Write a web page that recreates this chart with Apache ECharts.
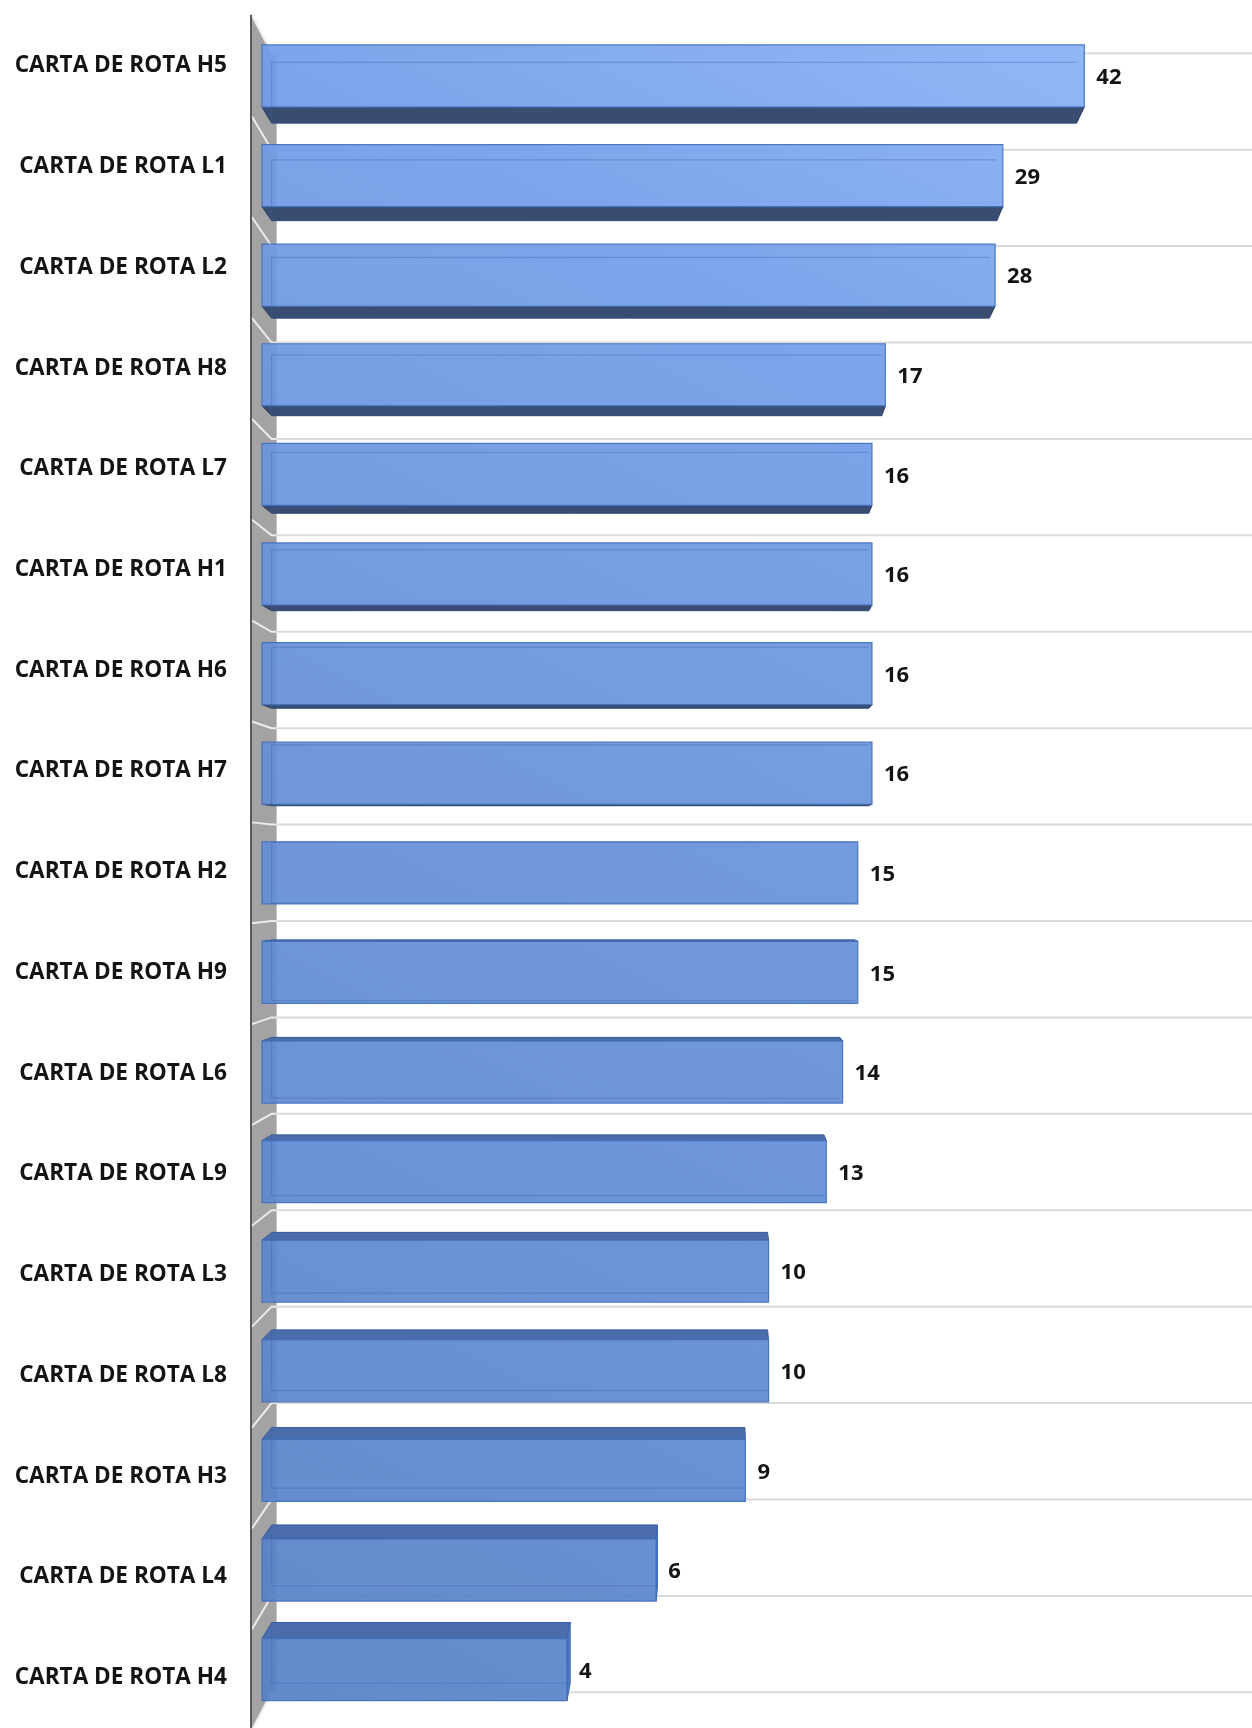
<!DOCTYPE html>
<html>
<head>
<meta charset="utf-8">
<script src="https://cdn.jsdelivr.net/npm/echarts@6/dist/echarts.min.js"></script>
<style>
  html, body { margin: 0; padding: 0; background: #ffffff; }
  #chart { width: 1252px; height: 1728px; }
</style>
</head>
<body>
<div id="chart"></div>
<script>
// Route charts, ordered from the largest count to the smallest
const categories = [
  'CARTA DE ROTA H5', 'CARTA DE ROTA L1', 'CARTA DE ROTA L2', 'CARTA DE ROTA H8',
  'CARTA DE ROTA L7', 'CARTA DE ROTA H1', 'CARTA DE ROTA H6', 'CARTA DE ROTA H7',
  'CARTA DE ROTA H2', 'CARTA DE ROTA H9', 'CARTA DE ROTA L6', 'CARTA DE ROTA L9',
  'CARTA DE ROTA L3', 'CARTA DE ROTA L8', 'CARTA DE ROTA H3', 'CARTA DE ROTA L4',
  'CARTA DE ROTA H4'
];
const counts = [42, 29, 28, 17, 16, 16, 16, 16, 15, 15, 14, 13, 10, 10, 9, 6, 4];

// Plot area (front plane of the bars)
const PLOT = { left: 262, top: 26.2, bottom: 8.6 };
const CHART_H = 1728;
const PLOT_H = CHART_H - PLOT.top - PLOT.bottom;

// Simple one-point perspective: everything recedes toward a vanishing point
const VP_X_FRAC = 0.462;   // across the plot width
const BAR_BACK = 0.979;    // scale of a bar's back face
const WALL_BACK = 0.968;   // back wall (grid lines)
const WALL_FRONT = 1.0126; // front edge of the side wall / category labels
const WALL_OFFSET = 5.2;   // side wall sits just left of the value-1 position
const WALL_THICK = 5;
const BAR_FILL = 0.623;

const LABEL_CENTER = PLOT.top + PLOT_H / 2;
const LABEL_HALF = (PLOT_H / 2) * WALL_FRONT;
const FONT = "'Open Sans', 'Noto Sans', sans-serif";

function vanishingPoint(cs) {
  return [cs.x + cs.width * VP_X_FRAC, cs.y + cs.height / 2];
}
function project(p, s, vp) {
  return [vp[0] + s * (p[0] - vp[0]), vp[1] + s * (p[1] - vp[1])];
}

const frontFill = new echarts.graphic.LinearGradient(1100, 40, 262, 1700, [
  { offset: 0, color: '#8ab2f8' },
  { offset: 0.2, color: '#729de9' },
  { offset: 0.5, color: '#6690d9' },
  { offset: 1, color: '#5580c6' }
], true);

// Side wall, its receding grid lines and the horizontal lines on the back wall
function renderWall(params, api) {
  const cs = params.coordSys;
  const vp = vanishingPoint(cs);
  const n = categories.length;
  const i = api.value(0);
  const band = cs.height / n;
  const yg = cs.y + i * band;
  const xw = cs.x - WALL_OFFSET;
  const f = project([xw, yg], WALL_FRONT, vp);
  const b = project([xw, yg], WALL_BACK, vp);
  const children = [];
  if (i === 0) {
    const yBot = cs.y + cs.height;
    const ft = project([xw, cs.y], WALL_FRONT, vp);
    const bt = project([xw, cs.y], WALL_BACK, vp);
    const fb = project([xw, yBot], WALL_FRONT, vp);
    const bb = project([xw, yBot], WALL_BACK, vp);
    children.push({
      type: 'polygon',
      shape: { points: [ft, bt, [bt[0] + WALL_THICK, bt[1]], [bb[0] + WALL_THICK, bb[1]], bb, fb] },
      style: { fill: '#a3a3a3' }
    });
  }
  children.push({
    type: 'line',
    shape: { x1: b[0] + WALL_THICK, y1: b[1], x2: cs.x + cs.width, y2: b[1] },
    style: { stroke: '#dadada', lineWidth: 2 }
  });
  children.push({
    type: 'polyline',
    shape: { points: [[f[0] + 1, f[1]], b, [b[0] + WALL_THICK, b[1]]] },
    style: { stroke: '#ececec', lineWidth: 2, fill: null }
  });
  return { type: 'group', children: children };
}

// A translucent box for each count, with its value printed past the end
function renderBar(params, api) {
  const cs = params.coordSys;
  const vp = vanishingPoint(cs);
  const v = api.value(0);
  const start = api.coord([1, api.value(1)]);
  const end = api.coord([v, api.value(1)]);
  const h = api.size([0, 1])[1] * BAR_FILL;
  const yc = start[1];
  const x0 = start[0], x1 = end[0], yT = yc - h / 2, yB = yc + h / 2;
  const F = { tl: [x0, yT], tr: [x1, yT], br: [x1, yB], bl: [x0, yB] };
  const B = {
    tl: project(F.tl, BAR_BACK, vp), tr: project(F.tr, BAR_BACK, vp),
    br: project(F.br, BAR_BACK, vp), bl: project(F.bl, BAR_BACK, vp)
  };
  const children = [];
  if (B.tl[1] < F.tl[1]) {
    children.push({ type: 'polygon', shape: { points: [F.tl, F.tr, B.tr, B.tl] },
      style: { fill: '#4a6cab', stroke: '#3d5f9e', lineWidth: 1 } });
  }
  if (B.bl[1] > F.bl[1]) {
    children.push({ type: 'polygon', shape: { points: [F.bl, F.br, B.br, B.bl] },
      style: { fill: '#394c71', stroke: '#2f405f', lineWidth: 1 } });
  }
  if (B.tr[0] > F.tr[0]) {
    children.push({ type: 'polygon', shape: { points: [F.tr, F.br, B.br, B.tr] },
      style: { fill: '#4f79bf', stroke: '#3f68ad', lineWidth: 1 } });
  }
  children.push({ type: 'rect', shape: { x: x0, y: yT, width: x1 - x0, height: h },
    style: { fill: frontFill, stroke: '#4170bc', lineWidth: 1.2, opacity: 0.92 } });
  // back top and bottom edges showing faintly through the front face
  children.push({ type: 'polyline', shape: { points: [B.tr, B.tl, B.bl, B.br] },
    style: { fill: null, stroke: 'rgba(58,98,170,0.35)', lineWidth: 1.2 } });
  children.push({ type: 'text',
    style: { x: x1 + 12, y: yc + 2, text: String(v), fill: '#141414',
      font: 'bold 22px ' + FONT, align: 'left', verticalAlign: 'middle' } });
  return { type: 'group', children: children };
}

const chart = echarts.init(document.getElementById('chart'), null, { renderer: 'canvas' });
chart.setOption({
  backgroundColor: '#ffffff',
  animation: false,
  grid: [
    { left: PLOT.left, right: 0, top: PLOT.top, bottom: PLOT.bottom },
    { left: 251, width: 1, top: LABEL_CENTER - LABEL_HALF, height: LABEL_HALF * 2 }
  ],
  xAxis: [
    { type: 'log', gridIndex: 0, min: 1, max: 90, logBase: 10, show: false },
    { type: 'value', gridIndex: 1, show: false }
  ],
  yAxis: [
    { type: 'category', gridIndex: 0, data: categories, inverse: true, show: false },
    {
      type: 'category', gridIndex: 1, data: categories, inverse: true, z: 5,
      axisLine: { show: true, lineStyle: { color: '#5a5a5a', width: 2 } },
      axisTick: { show: false },
      splitLine: { show: false },
      axisLabel: { margin: 24, color: '#141414', fontFamily: FONT, fontWeight: 'bold', fontSize: 22.6 }
    }
  ],
  series: [
    {
      type: 'custom', name: 'wall', xAxisIndex: 0, yAxisIndex: 0, z: 1,
      renderItem: renderWall, silent: true,
      data: Array.from({ length: categories.length + 1 }, (_, i) => [i]),
      encode: { x: -1, y: -1 }
    },
    {
      type: 'custom', name: 'Cartas', xAxisIndex: 0, yAxisIndex: 0, z: 3,
      renderItem: renderBar,
      data: counts.map((v, i) => [v, i]),
      encode: { x: 0, y: 1 }
    }
  ]
});
</script>
</body>
</html>
